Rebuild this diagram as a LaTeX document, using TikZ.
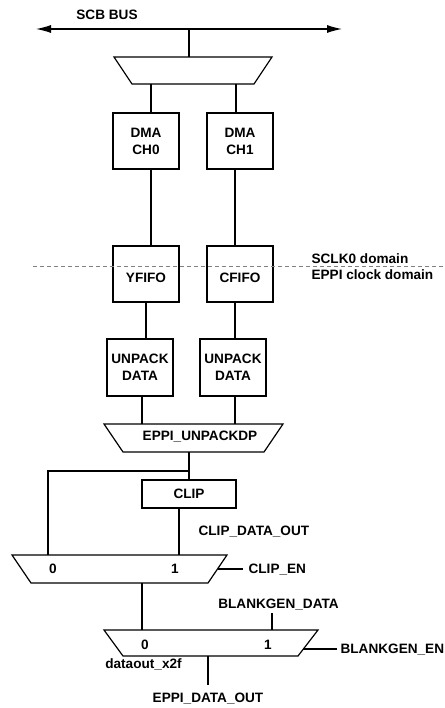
\documentclass[tikz,border=0pt]{standalone}
\usepackage{fontspec}
\setmainfont{Liberation Sans}
\usetikzlibrary{arrows.meta}
\begin{document}
\begin{tikzpicture}[x=1pt,y=-1pt,line width=1.2pt,
  every node/.style={font=\fontsize{13.6}{17}\selectfont\bfseries},
  blk/.style={draw,minimum width=66pt,minimum height=56pt,inner sep=0pt,align=center},
  lbl/.style={inner sep=0pt,text height=9.8pt,text depth=0pt},
  wire/.style={draw,line width=1.2pt}]
\useasboundingbox (0,0) rectangle (444,708);

% bus
\coordinate (busL) at (36,29);
\coordinate (busR) at (342,29);
\coordinate (busT) at (189,29);
\draw[{Latex[length=15pt,width=8pt]}-{Latex[length=15pt,width=8pt]}] (busL) -- (busR);
\node[lbl] (scb) at (107,15) {SCB BUS};

% top trapezoid
\draw (114,57) coordinate (tA) -- (272,57) coordinate (tB) -- (254,84) coordinate (tC) -- (132,84) coordinate (tD) -- cycle;
\coordinate (tTop) at (189,57);
\coordinate (tOut0) at (151,84);
\coordinate (tOut1) at (236,84);
\draw (busT) -- (tTop);

% DMA
\node[blk] (dma0) at (146,141) {DMA\\CH0};
\node[blk] (dma1) at (240,141) {DMA\\CH1};
\draw (tOut0) -- (tOut0 |- dma0.north);
\draw (tOut1) -- (tOut1 |- dma1.north);

% FIFOs
\node[blk] (yfifo) at (146,274) {};
\node[blk] (cfifo) at (240,274) {};
\draw ([xshift=5pt]dma0.south) -- ([xshift=5pt]dma0.south |- yfifo.north);
\draw ([xshift=-5pt]dma1.south) -- ([xshift=-5pt]dma1.south |- cfifo.north);

% domain line
\coordinate (dL) at (33,266);
\coordinate (dR) at (444,266);
\draw[gray,line width=0.9pt,dash pattern=on 4pt off 3pt] (dL) -- (dR);
\node[lbl] (yft) at (146,278) {YFIFO};
\node[lbl] (cft) at (240,278) {CFIFO};
\node[lbl,anchor=west] (sclk) at (311,259) {SCLK0 domain};
\node[lbl,anchor=west] (eppic) at (311,275) {EPPI clock domain};

% unpack
\node[blk,minimum height=57pt] (unp0) at (140,367.5) {UNPACK\\DATA};
\node[blk,minimum height=57pt] (unp1) at (233,367.5) {UNPACK\\DATA};
\draw (yfifo.south) -- (yfifo.south |- unp0.north);
\draw ([xshift=-5pt]cfifo.south) -- ([xshift=-5pt]cfifo.south |- unp1.north);

% EPPI_UNPACKDP trapezoid
\draw (104,424) coordinate (uA) -- (283,424) coordinate (uB) -- (264,452) coordinate (uC) -- (123,452) coordinate (uD) -- cycle;
\node[lbl] (unpdp) at (200,436) {EPPI\_UNPACKDP};
\coordinate (uIn0) at (142,424);
\coordinate (uIn1) at (235,424);
\coordinate (uOut) at (189,452);
\draw ([xshift=2pt]unp0.south) -- (uIn0);
\draw ([xshift=2pt]unp1.south) -- (uIn1);

% CLIP
\node[draw,minimum width=94pt,minimum height=28pt,inner sep=0pt] (clip) at (189,494) {CLIP};
\coordinate (br) at (189,471);
\coordinate (brL) at (48,471);
\draw (uOut) -- (clip.north);
\draw (br) -- (brL) -- (48,555) coordinate (m1in0);

% mux1
\draw (12,555) coordinate (mA) -- (227,555) coordinate (mB) -- (208,583) coordinate (mC) -- (31,583) coordinate (mD) -- cycle;
\coordinate (m1in1) at (179,555);
\draw (clip.south -| m1in1) -- (m1in1);
\node[lbl,anchor=west] (cdo) at (198,531) {CLIP\_DATA\_OUT};
\node[lbl] (m10) at (53,569) {0};
\node[lbl] (m11) at (175,569) {1};
\coordinate (m1sel) at (217.5,569);
\node[lbl,anchor=west] (clipen) at (248,569) {CLIP\_EN};
\draw (m1sel) -- ([xshift=-5pt]clipen.west);
\coordinate (m1out) at (142,583);

% mux2
\draw (104,630) coordinate (nA) -- (318,630) coordinate (nB) -- (298,656) coordinate (nC) -- (123,656) coordinate (nD) -- cycle;
\coordinate (m2in0) at (142,630);
\coordinate (m2in1) at (272,630);
\draw (m1out) -- (m2in0);
\node[lbl] (bgd) at (278.5,604) {BLANKGEN\_DATA};
\draw (272,613) coordinate (bgdl) -- (m2in1);
\node[lbl] (m20) at (145,645) {0};
\node[lbl] (m21) at (268,645) {1};
\coordinate (m2sel) at (303.4,649);
\node[lbl,anchor=west] (bgen) at (340,649) {BLANKGEN\_EN};
\draw (m2sel) -- ([xshift=-3pt]bgen.west);
\coordinate (m2out) at (208,656);
\coordinate (outEnd) at (208,685);
\draw (m2out) -- (outEnd);
\node[lbl] (dx2f) at (143.5,664) {dataout\_x2f};
\node[lbl] (edo) at (208,698) {EPPI\_DATA\_OUT};
\end{tikzpicture}
\end{document}
